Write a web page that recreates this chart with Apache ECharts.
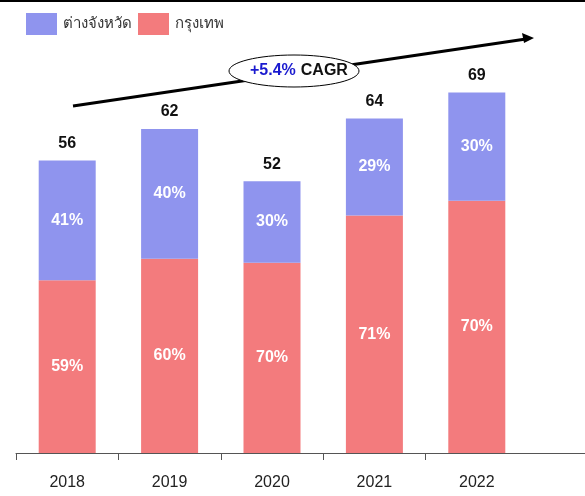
<!DOCTYPE html>
<html>
<head>
<meta charset="utf-8">
<script src="https://cdn.jsdelivr.net/npm/echarts@6/dist/echarts.min.js"></script>
<style>
  html, body { margin: 0; padding: 0; background: #fff; }
  #main { width: 585px; height: 496px; }
</style>
</head>
<body>
<div id="main"></div>
<script>
const years = ['2018', '2019', '2020', '2021', '2022']
const totals = [56, 62, 52, 64, 69]
// share of each year (percent)
const provincePct = [41, 40, 30, 29, 30]
const bangkokPct = [59, 60, 70, 71, 70]
const seriesNames = ['ต่างจังหวัด', 'กรุงเทพ']
const cagrText = '+5.4%'

const blue = '#8f94ee'
const red = '#f37b7d'
const font = '"Liberation Sans", Arial, sans-serif'

const bangkokVals = totals.map((t, i) => t * bangkokPct[i] / 100)
const provinceVals = totals.map((t, i) => t * provincePct[i] / 100)

var myChart = echarts.init(document.getElementById('main'))

myChart.setOption({
  animation: false,
  textStyle: { fontFamily: font },
  legend: {
    data: [seriesNames[0], seriesNames[1]],
    left: 26,
    top: 13,
    padding: 0,
    itemWidth: 31,
    itemHeight: 22,
    itemGap: 6,
    icon: 'rect',
    textStyle: { fontSize: 15, color: '#333', padding: [0, 0, 0, 1], fontFamily: '"Noto Sans", "DejaVu Sans", sans-serif' }
  },
  grid: { left: 16, right: 57, top: 35, bottom: 43 },
  xAxis: {
    type: 'category',
    data: years,
    axisLine: { show: true, lineStyle: { color: '#555', width: 1 } },
    axisTick: { show: true, length: 7, interval: 0, lineStyle: { color: '#555' } },
    axisLabel: { fontSize: 16, color: '#222', margin: 22 }
  },
  yAxis: {
    type: 'value',
    min: 0,
    max: 80,
    show: false
  },
  series: [
    {
      name: seriesNames[1],
      type: 'bar',
      stack: 'total',
      barWidth: 57,
      itemStyle: { color: red },
      data: bangkokVals,
      label: {
        show: true,
        position: 'inside',
        color: '#fff',
        fontWeight: 'bold',
        fontSize: 16,
        formatter: p => bangkokPct[p.dataIndex] + '%'
      }
    },
    {
      name: seriesNames[0],
      type: 'bar',
      stack: 'total',
      barWidth: 57,
      itemStyle: { color: blue },
      data: provinceVals,
      label: {
        show: true,
        position: 'inside',
        color: '#fff',
        fontWeight: 'bold',
        fontSize: 16,
        formatter: p => provincePct[p.dataIndex] + '%'
      }
    },
    {
      // invisible series carrying the total labels
      type: 'bar',
      stack: 'total',
      barWidth: 57,
      itemStyle: { color: 'transparent' },
      data: totals.map(() => 0),
      label: {
        show: true,
        position: 'top',
        distance: 9,
        color: '#111',
        fontWeight: 'bold',
        fontSize: 16,
        formatter: p => totals[p.dataIndex]
      },
      tooltip: { show: false }
    }
  ],
  graphic: [
    { type: 'rect', shape: { x: 0, y: 0, width: 585, height: 2 }, style: { fill: '#000' } },
    // hide the last boundary tick and carry the axis line to the edge
    { type: 'rect', shape: { x: 524, y: 454, width: 8, height: 10 }, style: { fill: '#fff' }, z: 100 },
    { type: 'line', shape: { x1: 528, y1: 453.5, x2: 585, y2: 453.5 }, style: { stroke: '#555', lineWidth: 1 } },
    { type: 'line', shape: { x1: 73, y1: 106, x2: 526, y2: 39 }, style: { stroke: '#000', lineWidth: 3 } },
    { type: 'polygon', shape: { points: [[534, 38], [522, 33], [524, 43]] }, style: { fill: '#000' } },
    { type: 'ellipse', shape: { cx: 294, cy: 71, rx: 65, ry: 16 }, style: { fill: '#fff', stroke: '#000', lineWidth: 1 } },
    {
      type: 'text',
      left: 250,
      top: 63,
      style: {
        text: '{b|' + cagrText + '}{k|CAGR}',
        rich: {
          b: { fontFamily: font, fontSize: 16, fontWeight: 'bold', fill: '#1a1acf' },
          k: { fontFamily: font, fontSize: 16, fontWeight: 'bold', fill: '#111', padding: [0, 0, 0, 5] }
        }
      }
    }
  ]
})
</script>
</body>
</html>
